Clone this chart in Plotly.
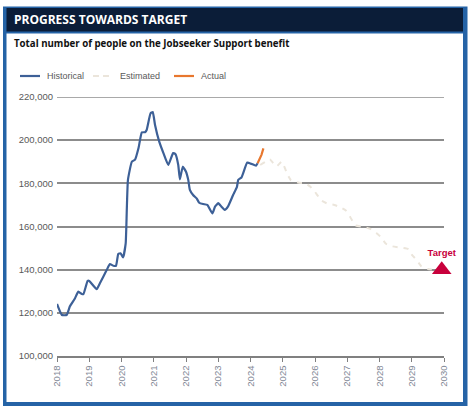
import plotly.graph_objects as go

# ---- data ----
hist_year = [2018.0, 2018.15, 2018.3, 2018.4, 2018.55, 2018.66, 2018.77, 2018.82, 2018.95, 2019.0,
             2019.23, 2019.33, 2019.54, 2019.64, 2019.75, 2019.83, 2019.9, 2019.97, 2020.05, 2020.13,
             2020.15, 2020.2, 2020.32, 2020.42, 2020.53, 2020.63, 2020.73, 2020.78, 2020.9, 2020.97,
             2021.04, 2021.17, 2021.3, 2021.45, 2021.6, 2021.67, 2021.76, 2021.81, 2021.9, 2022.0,
             2022.07, 2022.12, 2022.22, 2022.33, 2022.41, 2022.53, 2022.66, 2022.74, 2022.82, 2022.9,
             2023.0, 2023.1, 2023.2, 2023.3, 2023.46, 2023.58, 2023.62, 2023.72, 2023.9, 2024.03,
             2024.17, 2024.22]
hist_value = [124100, 119000, 119000, 123000, 126500, 129800, 128700, 128700, 134800, 134800,
              131000, 133700, 139800, 142600, 141800, 141800, 147300, 147600, 145700, 152200,
              160000, 181600, 190000, 191000, 196500, 203600, 203700, 204700, 212400, 213000,
              207000, 199300, 194000, 188500, 194000, 193600, 188500, 181800, 187700, 185400,
              181600, 177000, 174600, 173000, 171000, 170400, 170000, 168000, 166100, 169200,
              170800, 169200, 167700, 169200, 174600, 178400, 181600, 182700, 189600, 189000,
              188200, 189300]

actual_year = [2024.22, 2024.28, 2024.34, 2024.4]
actual_value = [189300, 191000, 193200, 196200]

est_year = [2024.3, 2024.6, 2024.8, 2024.97, 2025.15, 2025.25, 2025.5, 2025.7, 2025.85, 2026.0,
            2026.2, 2026.4, 2026.6, 2026.8, 2026.95, 2027.05, 2027.25, 2027.5, 2027.7, 2027.9,
            2028.05, 2028.2, 2028.4, 2028.65, 2028.9, 2029.0, 2029.15, 2029.3, 2029.5, 2029.75]
est_value = [188500, 191000, 187800, 190000, 184000, 181500, 180300, 180000, 178500, 176000,
             172000, 170500, 170000, 168800, 167500, 165500, 160500, 159900, 159000, 157000,
             155000, 152000, 150800, 150200, 149500, 147000, 144500, 141500, 140300, 140000]

target_year = [2029.93]
target_value = [140000]

year_ticks = list(range(2018, 2031))
year_labels = [str(y) for y in year_ticks]
y_ticks = [100000, 120000, 140000, 160000, 180000, 200000, 220000]

series_names = ["Historical", "Estimated", "Actual"]
series_colors = ["#3d6097", "#ebe5db", "#e8772e"]

TITLE = "PROGRESS TOWARDS TARGET"
SUBTITLE = "Total number of people on the Jobseeker Support benefit"

# ---- layout geometry (pixels) ----
W, H = 471, 412
L, R, T, B = 57, 27, 97, 56
PW, PH = W - L - R, H - T - B


def px(x):
    return (x - L) / PW


def py(y):
    return (H - B - y) / PH


fig = go.Figure()
fig.add_trace(go.Scatter(x=hist_year, y=hist_value, mode="lines", name=series_names[0],
                         line=dict(color=series_colors[0], width=2.2, shape="spline", smoothing=0.4)))
fig.add_trace(go.Scatter(x=est_year, y=est_value, mode="lines", name=series_names[1],
                         line=dict(color=series_colors[1], width=2, dash="5px,6px",
                                   shape="spline", smoothing=0.4)))
fig.add_trace(go.Scatter(x=actual_year, y=actual_value, mode="lines", name=series_names[2],
                         line=dict(color=series_colors[2], width=2.2)))
fig.add_trace(go.Scatter(x=target_year, y=target_value, mode="markers+text", text=["<b>Target</b>"],
                         textposition="top center", showlegend=False, cliponaxis=False,
                         textfont=dict(color="#c8003c", size=9.5, family="Liberation Sans"),
                         marker=dict(symbol="triangle-up", size=17, color="#c8003c")))

shapes = [
    dict(type="rect", xref="paper", yref="paper", x0=px(3), x1=px(467.5), y0=py(406), y1=py(6.5),
         fillcolor="#2563a6", line=dict(width=0), layer="below"),
    dict(type="rect", xref="paper", yref="paper", x0=px(6.5), x1=px(463), y0=py(402), y1=py(33.5),
         fillcolor="white", line=dict(width=0), layer="below"),
    dict(type="rect", xref="paper", yref="paper", x0=px(6.5), x1=px(463), y0=py(31.5), y1=py(8),
         fillcolor="#0b1d38", line=dict(width=0), layer="below"),
    # top gridline (at the end of the axis range)
    dict(type="line", xref="paper", yref="y", x0=0, x1=1, y0=y_ticks[-1], y1=y_ticks[-1],
         line=dict(color="#8c8c8c", width=1.5), layer="below"),
]

annotations = [
    dict(text="<b>" + TITLE + "</b>", xref="paper", yref="paper", x=px(12), y=py(20),
         xanchor="left", yanchor="middle", showarrow=False,
         font=dict(family="Open Sans", size=12, color="white")),
    dict(text="<b>" + SUBTITLE + "</b>", xref="paper", yref="paper", x=px(12), y=py(44),
         xanchor="left", yanchor="middle", showarrow=False,
         font=dict(family="Open Sans", size=9.7, color="#111111")),
]

# legend drawn as key lines + labels
legend_x = [20, 93, 174]
legend_y = 76
for i, name in enumerate(series_names):
    x0 = legend_x[i]
    shapes.append(dict(type="line", xref="paper", yref="paper", x0=px(x0), x1=px(x0 + 20),
                       y0=py(legend_y), y1=py(legend_y),
                       line=dict(color=series_colors[i], width=2.2,
                                 dash="6px,4px" if i == 1 else "solid")))
    annotations.append(dict(text=name, xref="paper", yref="paper", x=px(x0 + 25), y=py(legend_y),
                            xanchor="left", yanchor="middle", showarrow=False,
                            font=dict(family="Liberation Sans", size=9, color="#595959")))

fig.update_layout(
    width=W, height=H,
    margin=dict(l=L, r=R, t=T, b=B, autoexpand=False),
    paper_bgcolor="white", plot_bgcolor="rgba(0,0,0,0)",
    shapes=shapes, annotations=annotations,
    font=dict(family="Liberation Sans", size=9, color="#595959"),
    showlegend=False,
    xaxis=dict(range=[2018, 2030], tickvals=year_ticks, ticktext=year_labels, tickangle=-90,
               showgrid=False, zeroline=False, showline=True, linecolor="#808080", linewidth=1.5,
               ticks="outside", ticklen=4, tickcolor="#808080", tickwidth=1,
               tickfont=dict(size=9.5, color="#7f8795")),
    yaxis=dict(range=[100000, 220000], tickvals=y_ticks, tickformat=",", showgrid=True,
               gridcolor="#8c8c8c", gridwidth=1.5, zeroline=False, showline=False,
               ticklabelstandoff=3,
               tickfont=dict(size=9.5, color="#595959")),
)

fig.write_html("out.html")
